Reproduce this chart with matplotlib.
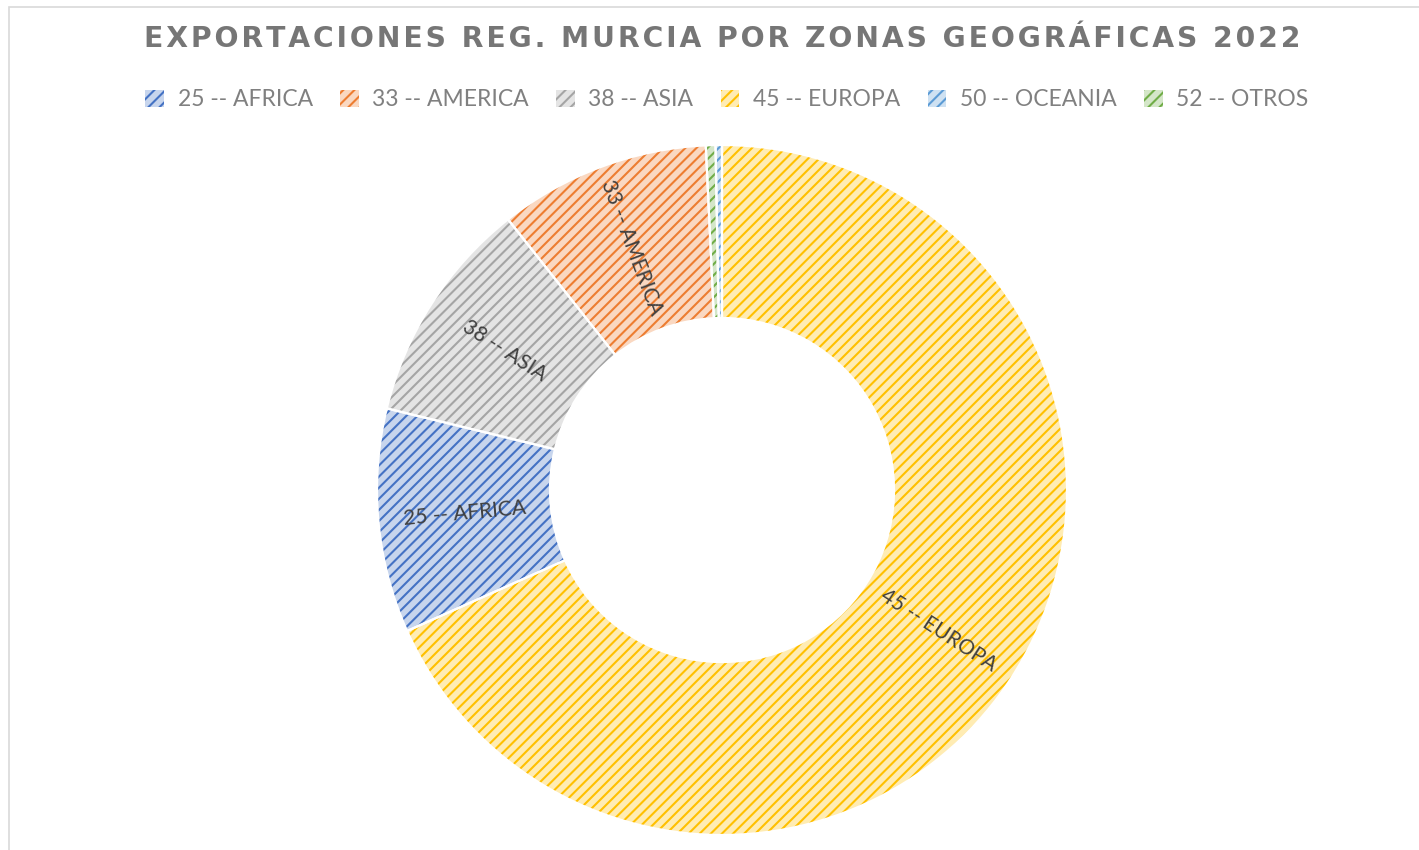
import numpy as np
import matplotlib
matplotlib.use('Agg')
import matplotlib.pyplot as plt
from matplotlib.patches import Patch, Rectangle
from matplotlib.colors import to_rgb

categories = ['25 -- AFRICA', '33 -- AMERICA', '38 -- ASIA', '45 -- EUROPA', '50 -- OCEANIA', '52 -- OTROS']
shares = [10.5, 9.9, 10.55, 68.3, 0.3, 0.45]
colors = ['#4472C4', '#ED7D31', '#A5A5A5', '#FFC000', '#5B9BD5', '#70AD47']
# drawing order, clockwise from 12 o'clock
order = [3, 0, 2, 1, 5, 4]
labeled = ['25 -- AFRICA', '33 -- AMERICA', '38 -- ASIA', '45 -- EUROPA']
title = 'EXPORTACIONES REG. MURCIA POR ZONAS GEOGRÁFICAS 2022'

W, H = 1419, 850
plt.rcParams['hatch.linewidth'] = 1.5
fig = plt.figure(figsize=(W / 100, H / 100), dpi=100)
ax = fig.add_axes([0, 0, 1, 1])


def light(c, f=0.3):
    r, g, b = to_rgb(c)
    return (1 - (1 - r) * f, 1 - (1 - g) * f, 1 - (1 - b) * f)


vals = [shares[i] for i in order]
cols = [colors[i] for i in order]
labs = [categories[i] for i in order]
R, width = 345, 173
cx, cy = 722, H - 490

wedges, _ = ax.pie(vals, radius=R, center=(cx, cy), startangle=90, counterclock=False,
                   colors=[light(c) for c in cols], hatch='///',
                   wedgeprops=dict(width=width, linewidth=0))
for w, c in zip(wedges, cols):
    w.set_edgecolor(c)
    w.set_linewidth(0)

ax.pie(vals, radius=R, center=(cx, cy), startangle=90, counterclock=False,
       wedgeprops=dict(width=width, facecolor='none', edgecolor='white', linewidth=1.6))

for w, lab in zip(wedges, labs):
    if lab not in labeled:
        continue
    th = (w.theta1 + w.theta2) / 2
    r = R - width / 2
    x = cx + r * np.cos(np.radians(th))
    y = cy + r * np.sin(np.radians(th))
    rot = ((th + 90) % 180) - 90
    ax.text(x, y, lab, rotation=rot, rotation_mode='anchor', ha='center', va='center',
            fontsize=15, color='#404040', family=['Lato', 'DejaVu Sans'])

ax.set_xlim(0, W)
ax.set_ylim(0, H)
ax.set_aspect('equal')
ax.axis('off')

# chart area border
fig.add_artist(Rectangle((9 / W, -0.1), 1.2, 1 - 7 / H + 0.1, transform=fig.transFigure,
                         facecolor='none', edgecolor='#d9d9d9', linewidth=1.2))

spaced = '\u200a'.join(list(title))
fig.text(722 / W, 1 - 39 / H, spaced, ha='center', va='center', fontsize=20.3,
         fontweight='bold', color='#767676', family=['DejaVu Sans'])

handles = [Patch(facecolor=light(c), edgecolor=c, hatch='///', linewidth=0) for c in colors]
leg = fig.legend(handles, categories, ncol=6, loc='center', bbox_to_anchor=(727 / W, 1 - 100 / H),
                 frameon=False, prop=dict(family='Lato', weight='normal', size=16.5),
                 labelcolor='#808080', handlelength=0.8, handleheight=0.8,
                 handletextpad=0.6, columnspacing=1.2)

fig.savefig('out.png', dpi=100)
